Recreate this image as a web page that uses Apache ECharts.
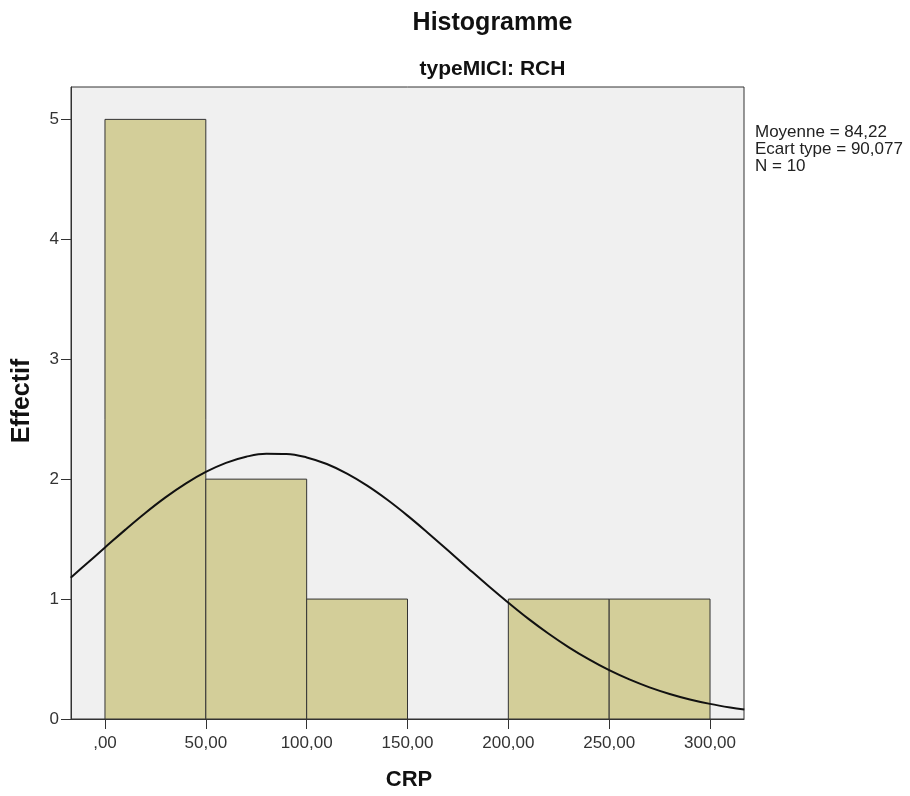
<!DOCTYPE html>
<html>
<head>
<meta charset="utf-8">
<script src="https://cdn.jsdelivr.net/npm/echarts@6/dist/echarts.min.js"></script>
<style>html,body{margin:0;padding:0;background:#fff;}#c{width:910px;height:796px;}</style>
</head>
<body>
<div id="c"></div>
<script>
// Histogram bins (CRP) and counts
var binStart = [0, 50, 100, 150, 200, 250];
var binEnd = [50, 100, 150, 200, 250, 300];
var counts = [5, 2, 1, 0, 1, 1];
// Normal curve readings (x, effectif)
var curveX = [-17, -10, 0, 10, 20, 30, 40, 50, 60, 70, 80, 90, 100, 110, 120, 130, 140, 150, 160, 170, 180, 190, 200, 210, 220, 230, 240, 250, 260, 270, 280, 290, 300, 310, 317];
var curveY = [1.178, 1.282, 1.430, 1.577, 1.718, 1.848, 1.963, 2.060, 2.136, 2.187, 2.212, 2.210, 2.181, 2.126, 2.046, 1.946, 1.828, 1.696, 1.554, 1.407, 1.258, 1.111, 0.970, 0.835, 0.711, 0.598, 0.497, 0.407, 0.330, 0.264, 0.209, 0.163, 0.126, 0.096, 0.079];
// Tick labels
var xTicks = [0, 50, 100, 150, 200, 250, 300];
var xTickLabels = [',00', '50,00', '100,00', '150,00', '200,00', '250,00', '300,00'];
var yTicks = [0, 1, 2, 3, 4, 5];
var statsLines = ['Moyenne = 84,22', 'Ecart type = 90,077', 'N = 10'];

var barData = binStart.map(function (s, i) { return [s, binEnd[i], counts[i]]; }).filter(function (d) { return d[2] > 0; });
var curveData = curveX.map(function (x, i) { return [x, curveY[i]]; });

var font = '"Liberation Sans", Arial, sans-serif';
var chart = echarts.init(document.getElementById('c'), null, { renderer: 'canvas' });
chart.setOption({
  animation: false,
  backgroundColor: '#ffffff',
  graphic: [
    { type: 'text', x: 492.5, y: 23,
      style: { text: 'Histogramme', font: 'bold 25px ' + font, fill: '#111', align: 'center', verticalAlign: 'middle' } },
    { type: 'text', x: 492.5, y: 69,
      style: { text: 'typeMICI: RCH', font: 'bold 21px ' + font, fill: '#111', align: 'center', verticalAlign: 'middle' } },
    { type: 'text', x: 409, y: 780,
      style: { text: 'CRP', font: 'bold 22px ' + font, fill: '#111', align: 'center', verticalAlign: 'middle' } },
    { type: 'text', x: 22, y: 401, rotation: Math.PI / 2,
      style: { text: 'Effectif', font: 'bold 25px ' + font, fill: '#111', align: 'center', verticalAlign: 'middle' } },
    { type: 'text', x: 755, y: 124,
      style: { text: statsLines.join('\n'), font: '17px ' + font, fill: '#222', lineHeight: 17, verticalAlign: 'top' } }
  ],
  grid: { left: 71, right: 166, top: 87, bottom: 77, show: true, backgroundColor: '#f0f0f0', borderColor: '#333', borderWidth: 1 },
  xAxis: {
    type: 'value', min: -16.85, max: 316.85,
    axisLine: { show: true, onZero: false, lineStyle: { color: '#333', width: 1 } },
    axisTick: { show: true, length: 10, customValues: xTicks, lineStyle: { color: '#333' } },
    axisLabel: { customValues: xTicks, margin: 16, fontFamily: font, fontSize: 17, color: '#333',
      formatter: function (v) { var i = xTicks.indexOf(v); return i >= 0 ? xTickLabels[i] : ''; } },
    splitLine: { show: false }
  },
  yAxis: {
    type: 'value', min: 0, max: 5.27,
    axisLine: { show: true, onZero: false, lineStyle: { color: '#333', width: 1 } },
    axisTick: { show: true, length: 10, customValues: yTicks, lineStyle: { color: '#333' } },
    axisLabel: { customValues: yTicks, margin: 12, fontFamily: font, fontSize: 17, color: '#333' },
    splitLine: { show: false }
  },
  series: [
    {
      type: 'custom',
      data: barData,
      encode: { x: [0, 1], y: 2 },
      renderItem: function (params, api) {
        var p0 = api.coord([api.value(0), 0]);
        var p1 = api.coord([api.value(1), api.value(2)]);
        return {
          type: 'rect',
          shape: { x: p0[0], y: p1[1], width: p1[0] - p0[0], height: p0[1] - p1[1] },
          style: { fill: '#d3ce99', stroke: '#333', lineWidth: 1 }
        };
      },
      z: 2
    },
    {
      type: 'line', data: curveData, smooth: 0.4, showSymbol: false, clip: true,
      lineStyle: { color: '#111', width: 2 }, z: 3
    }
  ]
});
</script>
</body>
</html>
